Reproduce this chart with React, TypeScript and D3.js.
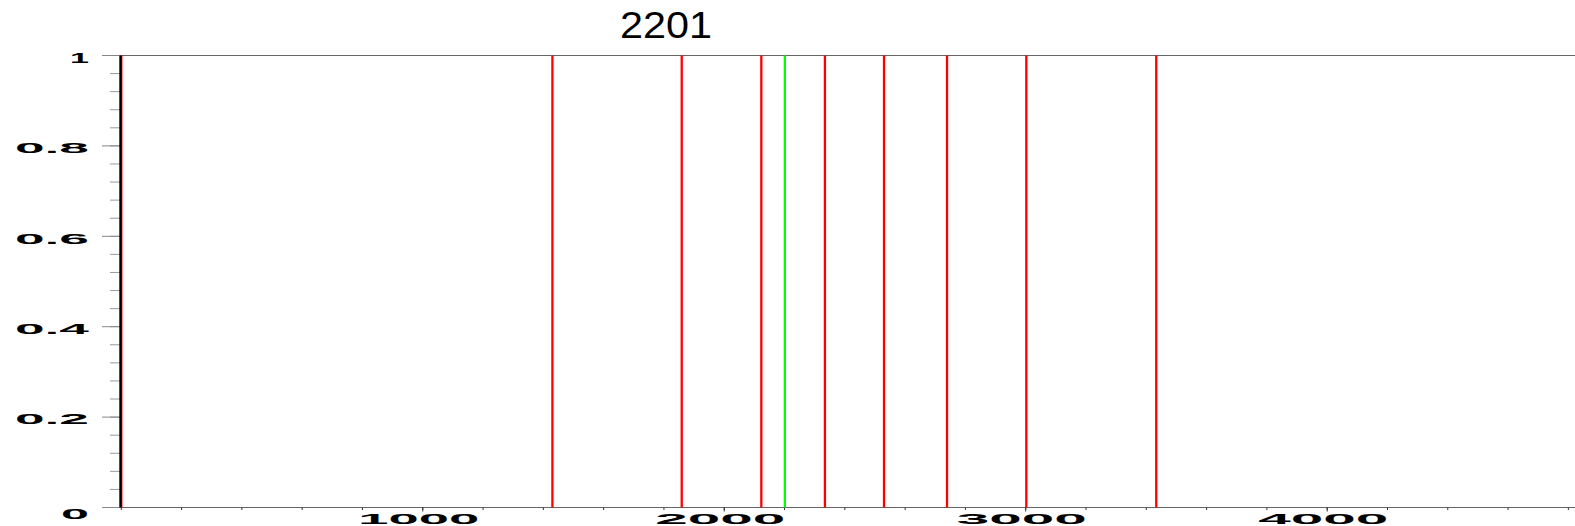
import React from 'react';
import * as d3 from 'd3';

// Chart data
const title = '2201';
const redPeaks = [0, 1430, 1859, 2123, 2334, 2530, 2739, 3002, 3433];
const redHeights = [1, 1, 1, 1, 1, 1, 1, 1, 1];
const greenPeaks = [2201];
const greenHeights = [1];
const xTickValues = [1000, 2000, 3000, 4000];
const xTickLabels = ['1000', '2000', '3000', '4000'];
const yTickValues = [0, 0.2, 0.4, 0.6, 0.8, 1];
const yTickLabels = ['0', '0.2', '0.4', '0.6', '0.8', '1'];

const W = 1575;
const H = 526;

// Wide, squat tick label font: stretch glyphs to measured widths
function labelWidth(s: string) {
  let w = 0;
  for (const c of s) w += c === '1' ? 19 : c === '.' ? 6 : 28;
  return w + (s.length - 1) * 6;
}

export default function App() {
  const x = d3.scaleLinear().domain([0, 4822]).range([121.3, W]);
  const y = d3.scaleLinear().domain([0, 1]).range([507.5, 55.5]);

  const xMinor = d3.range(0, 4822, 200);
  const yMinor = d3.range(0, 1.0001, 0.04);

  const labelFont = { fontFamily: '"Liberation Sans", Arial, sans-serif', fontWeight: 700, fontSize: 14.5 };

  return (
    <svg width={W} height={H} style={{ position: 'absolute', left: 0, top: 0, background: '#fff' }}>
      {/* title */}
      <text x={620} y={37.7} fontFamily='"Liberation Sans", Arial, sans-serif' fontSize={37}
        textLength={92} lengthAdjust="spacingAndGlyphs" fill="#000">{title}</text>

      {/* frame lines */}
      <line x1={102} x2={W} y1={y(1)} y2={y(1)} stroke="#666" strokeWidth={1} />
      <line x1={102} x2={W} y1={y(0)} y2={y(0)} stroke="#666" strokeWidth={1} />

      {/* y ticks */}
      {yMinor.map((v, i) => (
        <line key={'ym' + i} x1={110} x2={121} y1={y(v)} y2={y(v)} stroke="#999" strokeWidth={1} />
      ))}
      {yTickValues.map((v) => (
        <line key={'yM' + v} x1={102} x2={121} y1={y(v)} y2={y(v)} stroke="#888" strokeWidth={1} />
      ))}
      {yTickValues.map((v, i) => {
        const s = yTickLabels[i];
        const w = labelWidth(s);
        const cy = v === 0 ? y(v) + 6.5 : y(v) + 2;
        return (
          <text key={'yl' + v} x={89 - w} y={cy + 5.2} textLength={w} lengthAdjust="spacingAndGlyphs"
            {...labelFont} fill="#000">{s}</text>
        );
      })}

      {/* x ticks */}
      {xMinor.map((v) => (
        <line key={'xm' + v} x1={x(v)} x2={x(v)} y1={y(0)} y2={y(0) + 2.5} stroke="#333" strokeWidth={1} />
      ))}
      {xTickValues.map((v) => (
        <line key={'xM' + v} x1={x(v)} x2={x(v)} y1={y(0)} y2={y(0) + 4} stroke="#333" strokeWidth={1} />
      ))}
      {xTickValues.map((v, i) => {
        const s = xTickLabels[i];
        const w = labelWidth(s);
        return (
          <text key={'xl' + v} x={x(v) - 4 - w / 2} y={523.5} textLength={w} lengthAdjust="spacingAndGlyphs"
            {...labelFont} fill="#000">{s}</text>
        );
      })}

      {/* peaks */}
      {redPeaks.map((p, i) => (
        <line key={'r' + i} x1={x(p)} x2={x(p)} y1={y(0)} y2={y(redHeights[i])} stroke="#ff0000" strokeWidth={2.3} />
      ))}
      {greenPeaks.map((p, i) => (
        <line key={'g' + i} x1={x(p)} x2={x(p)} y1={y(0)} y2={y(greenHeights[i])} stroke="#00ff00" strokeWidth={2.3} />
      ))}

      {/* y axis line */}
      <line x1={x(0) - 0.8} x2={x(0) - 0.8} y1={y(0)} y2={y(1)} stroke="#000" strokeWidth={2.4} />
    </svg>
  );
}
